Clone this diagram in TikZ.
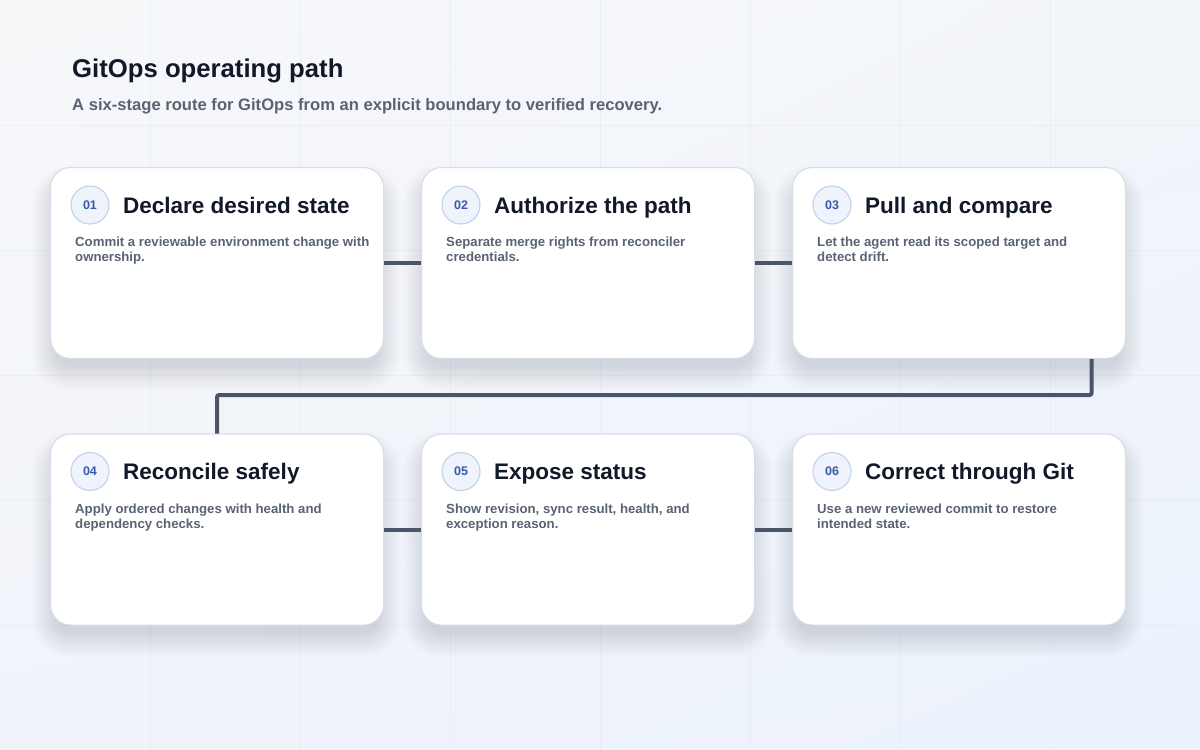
\documentclass[tikz,border=0pt]{standalone}
\usepackage{fontspec}
\setmainfont{Liberation Sans}
\usetikzlibrary{shadings,calc}
\definecolor{bgTL}{HTML}{F7F8FA}
\definecolor{bgTR}{HTML}{F2F5FA}
\definecolor{bgBL}{HTML}{F0F3FA}
\definecolor{bgBR}{HTML}{EBF2FC}
\definecolor{gridc}{HTML}{E4E9F0}
\definecolor{cardline}{HTML}{D6DDE8}
\definecolor{ink}{HTML}{111827}
\definecolor{muted}{HTML}{5A6373}
\definecolor{numfill}{HTML}{EEF3FC}
\definecolor{numline}{HTML}{C3D1EA}
\definecolor{numtext}{HTML}{3A5AA8}
\definecolor{connc}{HTML}{4A5568}
\definecolor{shadowc}{HTML}{5B6B8C}
\newcommand{\stagecard}[6]{%
  \foreach \k in {0,...,15}{%
    \pgfmathsetmacro\e{1.6*\k-6}%
    \pgfmathsetmacro\r{max(6,20+\e)}%
    \fill[shadowc, opacity=0.013, rounded corners=\r pt]
      (#2-\e,#3+16-\e) rectangle (#2+333+\e,#3+191+14+\e);
  }
  \node[card] (#1) at (#2,#3) {};
  \node[numc] (#1n) at (#2+40,#3+38) {#4};
  \node[ttl] (#1t) at (#2+73,#3+46) {#5};
  \node[dsc] (#1d) at (#2+25,#3+70) {#6};
}
\begin{document}
\begin{tikzpicture}[x=1pt,y=-1pt,
  card/.style={draw=cardline, line width=1.1pt, fill=white, rounded corners=20pt,
    minimum width=333pt, minimum height=191pt, anchor=north west, inner sep=0pt},
  numc/.style={circle, draw=numline, line width=1.1pt, fill=numfill, minimum size=38pt,
    inner sep=0pt, text=numtext, font=\fontsize{12.5}{14}\selectfont\bfseries},
  ttl/.style={anchor=base west, inner sep=0pt, text=ink,
    font=\fontsize{22.5}{26}\selectfont\bfseries},
  dsc/.style={anchor=north west, inner sep=0pt, text=muted, align=left,
    font=\fontsize{13.2}{15}\selectfont\bfseries},
  conn/.style={draw=connc, line width=4pt, rounded corners=2pt},
  hdr/.style={anchor=base west, inner sep=0pt}
]
\useasboundingbox (0,0) rectangle (1200,750);
\shade[upper left=bgTL, upper right=bgTR, lower left=bgBL, lower right=bgBR] (0,0) rectangle (1200,750);
\foreach \gx in {150,300,...,1050} \draw[gridc, line width=0.8pt, opacity=0.55] (\gx,0) -- (\gx,750);
\foreach \gy in {125,250,...,625} \draw[gridc, line width=0.8pt, opacity=0.55] (0,\gy) -- (1200,\gy);

\node[hdr, text=ink, font=\fontsize{25.7}{30}\selectfont\bfseries] (title) at (72,77) {GitOps operating path};
\node[hdr, text=muted, font=\fontsize{16.6}{19}\selectfont\bfseries] (subtitle) at (72,110) {A six-stage route for GitOps from an explicit boundary to verified recovery.};

\stagecard{c1}{50}{167}{01}{Declare desired state}{Commit a reviewable environment change with\\ownership.}
\stagecard{c2}{421}{167}{02}{Authorize the path}{Separate merge rights from reconciler\\credentials.}
\stagecard{c3}{792}{167}{03}{Pull and compare}{Let the agent read its scoped target and\\detect drift.}
\stagecard{c4}{50}{433.5}{04}{Reconcile safely}{Apply ordered changes with health and\\dependency checks.}
\stagecard{c5}{421}{433.5}{05}{Expose status}{Show revision, sync result, health, and\\exception reason.}
\stagecard{c6}{792}{433.5}{06}{Correct through Git}{Use a new reviewed commit to restore\\intended state.}

\coordinate (turn) at (0,395);
\draw[conn] (c1.east) -- (c2.west);
\draw[conn] (c2.east) -- (c3.west);
\draw[conn] ([xshift=132.5pt]c3.south) |- (turn -| c4.north) -- (c4.north);
\draw[conn] (c4.east) -- (c5.west);
\draw[conn] (c5.east) -- (c6.west);
\end{tikzpicture}
\end{document}
